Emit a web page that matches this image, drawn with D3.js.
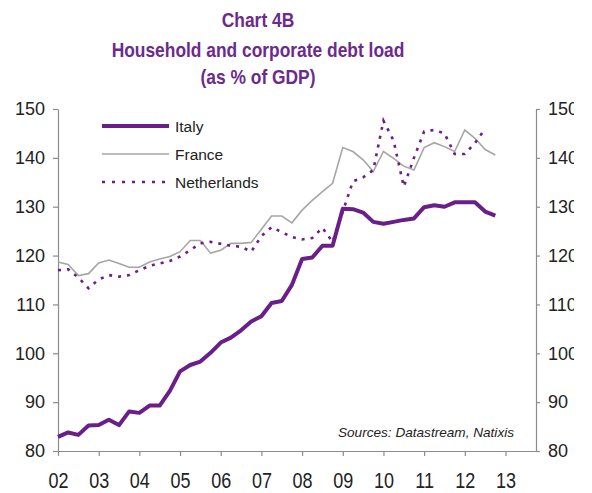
<!DOCTYPE html>
<html lang="en">
<head>
<meta charset="UTF-8">
<title>Chart 4B</title>
<style>
  body { margin: 0; background: #fff; }
  svg text { font-family: "Liberation Sans", Arial, sans-serif; }
  .axis path, .axis line { stroke: #8c8c8c; stroke-width: 1.2px; }
  .axis text { font-size: 18px; fill: #222; }
</style>
</head>
<body>
<div id="chart"></div>
<script src="https://d3js.org/d3.v7.min.js"></script>
<script>
// quarterly data, 2002Q1 .. 2012Q4
const startYear = 2002;
const italy = [82.9, 83.8, 83.3, 85.2, 85.3, 86.4, 85.3, 88.1, 87.8, 89.3, 89.3, 92.3,
  96.3, 97.6, 98.3, 100.1, 102.2, 103.2, 104.7, 106.5, 107.6, 110.3, 110.7, 114.0,
  119.3, 119.6, 122.0, 122.0, 129.6, 129.5, 128.8, 126.9, 126.5, 126.9, 127.3, 127.6,
  129.9, 130.3, 130.0, 130.9, 130.9, 130.9, 129.0, 128.2];
const france = [118.7, 118.2, 115.9, 116.3, 118.5, 119.1, 118.4, 117.6, 117.6, 118.7, 119.3, 119.8,
  120.8, 123.1, 123.1, 120.5, 121.1, 122.5, 122.5, 122.7, 125.4, 128.1, 128.1, 126.7,
  129.3, 131.3, 133.1, 134.8, 142.1, 141.3, 139.6, 137.2, 141.3, 139.9, 138.3, 137.5,
  142.1, 143.1, 142.3, 141.3, 145.7, 144.0, 141.7, 140.6];
const netherlands = [117.0, 117.2, 115.5, 113.3, 115.1, 116.0, 115.7, 116.0, 117.0, 117.9, 118.4, 118.9,
  119.8, 121.1, 122.5, 122.8, 122.4, 122.0, 121.8, 120.8, 124.0, 125.8, 124.8, 123.8,
  123.3, 123.6, 125.7, 122.8, 129.0, 135.2, 136.0, 137.5, 147.6, 143.5, 134.1, 140.0,
  145.4, 145.7, 145.0, 140.8, 140.8, 143.0, 146.0];

const yearTicks = [2002, 2003, 2004, 2005, 2006, 2007, 2008, 2009, 2010, 2011, 2012, 2013];
const yearLabels = ["02", "03", "04", "05", "06", "07", "08", "09", "10", "11", "12", "13"];
const yTicks = [80, 90, 100, 110, 120, 130, 140, 150];

const titleLines = ["Chart 4B", "Household and corporate debt load", "(as % of GDP)"];
const seriesNames = ["Italy", "France", "Netherlands"];
const sourceNote = "Sources: Datastream, Natixis";

const width = 592, height = 493;
const purple = "#6a1f88";

const svg = d3.select("#chart").append("svg")
  .attr("width", width)
  .attr("height", height);

const x = d3.scaleLinear().domain([2002, 2013.75]).range([58, 536]);
const y = d3.scaleLinear().domain([80, 150]).range([451, 109]);

// title (text in the source is a bit stretched vertically)
svg.append("g").selectAll("text")
  .data(titleLines)
  .join("text")
  .attr("transform", (d, i) => `translate(258,${[27, 57, 84][i]}) scale(1,1.2)`)
  .attr("text-anchor", "middle")
  .style("font-size", "17.4px")
  .style("font-weight", "bold")
  .style("fill", "#6b2b8c")
  .text(d => d);

// axes
svg.append("g")
  .attr("class", "axis")
  .attr("transform", "translate(58,0)")
  .call(d3.axisLeft(y).tickValues(yTicks).tickSize(5).tickSizeOuter(0).tickPadding(8));

// right-hand labels are cut off at the image edge in the source
svg.append("defs").append("clipPath").attr("id", "rclip")
  .append("rect").attr("x", 0).attr("y", 0).attr("width", 574).attr("height", height);

svg.append("g").attr("clip-path", "url(#rclip)")
  .append("g")
  .attr("class", "axis")
  .attr("transform", "translate(536,0)")
  .call(d3.axisRight(y).tickValues(yTicks).tickSize(4).tickSizeOuter(0).tickPadding(8));

svg.append("g")
  .attr("class", "axis")
  .attr("transform", "translate(0,451)")
  .call(d3.axisBottom(x).tickValues(yearTicks).tickSize(5).tickSizeOuter(0)
    .tickFormat((d, i) => yearLabels[i]))
  .selectAll(".tick text")
  .attr("y", null).attr("dy", null)
  .attr("transform", "translate(0,37) scale(1,1.25)");

// lines
const line = d3.line()
  .x((d, i) => x(startYear + i * 0.25))
  .y(d => y(d));

svg.append("path").datum(france)
  .attr("fill", "none").attr("stroke", "#a6a6a6").attr("stroke-width", 1.6)
  .attr("d", line);

svg.append("path").datum(netherlands)
  .attr("fill", "none").attr("stroke", purple).attr("stroke-width", 2.6)
  .attr("stroke-dasharray", "3,6")
  .attr("d", line);

svg.append("path").datum(italy)
  .attr("fill", "none").attr("stroke", purple).attr("stroke-width", 4)
  .attr("stroke-linejoin", "round")
  .attr("d", line);

// legend
const legendStyles = [
  { stroke: purple, width: 4, dash: null },
  { stroke: "#a6a6a6", width: 1.6, dash: null },
  { stroke: purple, width: 2.6, dash: "3,7" }
];
const legend = svg.append("g");
seriesNames.forEach((name, i) => {
  const ly = 126 + i * 28;
  legend.append("line")
    .attr("x1", 102).attr("x2", 169).attr("y1", ly).attr("y2", ly)
    .attr("stroke", legendStyles[i].stroke)
    .attr("stroke-width", legendStyles[i].width)
    .attr("stroke-dasharray", legendStyles[i].dash);
  legend.append("text")
    .attr("x", 175).attr("y", ly + 5.5)
    .style("font-size", "15.5px").style("fill", "#222")
    .text(name);
});

// source
svg.append("text")
  .attr("x", 514).attr("y", 437)
  .attr("text-anchor", "end")
  .style("font-size", "13.6px")
  .style("font-style", "italic")
  .style("fill", "#222")
  .text(sourceNote);
</script>
</body>
</html>
